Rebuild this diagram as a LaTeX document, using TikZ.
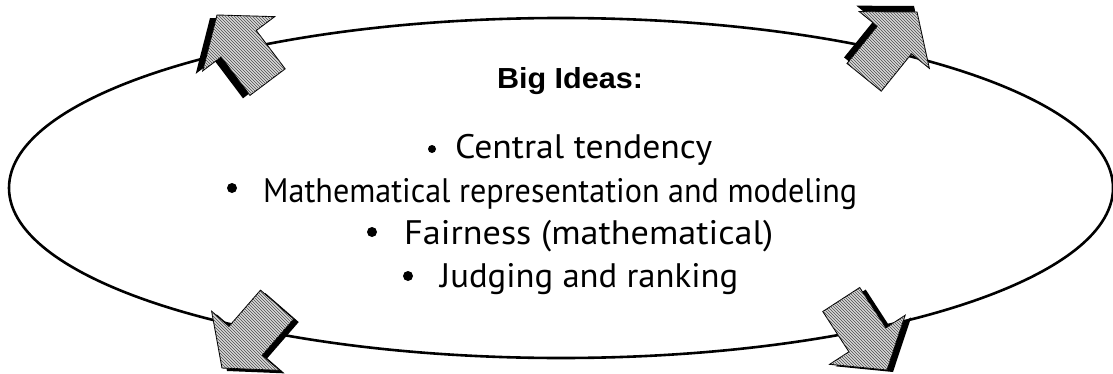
\documentclass[tikz,border=0pt]{standalone}
\usepackage{fontspec}
\usepackage{graphicx}
\setmainfont{PT Sans}
\newfontfamily\headfont{Liberation Sans}
\usetikzlibrary{patterns}

% stretch a line of text to a given width, keeping its height
\newcommand\stretchto[2]{\resizebox{#1}{\height}{#2}}

% block arrow pointing along +x with its tip at the origin
\newcommand\arrowpath{(0,0) -- (-36,45) -- (-36,22) -- (-84,22) -- (-84,-22) -- (-36,-22) -- (-36,-45) -- cycle}

% #1 tip, #2 direction, #3 offset of the dark side
\newcommand\blockarrow[3]{%
  \begin{scope}[shift={(#1)}]
    \fill[arrowside, shift={(#3)}, rotate=#2] \arrowpath;
    \filldraw[arrowbody, rotate=#2] \arrowpath;
  \end{scope}}

\tikzset{
  x=1pt, y=1pt,
  ring/.style={line width=2.6pt},
  arrowbody/.style={draw=black, line width=0.9pt, fill=gray!30,
    postaction={pattern=north west lines, pattern color=black!70}},
  arrowside/.style={fill=black},
  dot/.style={circle, fill=black, inner sep=0pt},
  bodytext/.style={anchor=base west, inner sep=0pt, font=\fontsize{34}{40}\selectfont},
  headtext/.style={anchor=base, inner sep=0pt, font=\headfont\bfseries\fontsize{29}{34}\selectfont},
}

\begin{document}
\begin{tikzpicture}
  \useasboundingbox (0,0) rectangle (1113,373);
  \fill[white] (0,0) rectangle (1113,373);

  % the cycle
  \draw[ring] (561,185) ellipse [x radius=552, y radius=170];

  % arrows leaving the cycle
  \blockarrow{217,358}{127}{-7,-3}
  \blockarrow{917,361}{51}{-3,6}
  \blockarrow{222,5}{229}{5,-3}
  \blockarrow{887,3}{303}{6,-2}

  % heading
  \node[headtext] (title) at (570,284) {\stretchto{146pt}{Big Ideas:}};

  % list of ideas
  \node[dot, minimum size=8pt] (b1) at (432,224) {};
  \node[bodytext] (t1) at (455,215) {\stretchto{257pt}{Central tendency}};

  \node[dot, minimum size=10pt] (b2) at (232,185) {};
  \node[bodytext] (t2) at (263,171) {\stretchto{594pt}{Mathematical representation and modeling}};

  \node[dot, minimum size=10pt] (b3) at (372,141) {};
  \node[bodytext] (t3) at (404,129) {\stretchto{369pt}{Fairness (mathematical)}};

  \node[dot, minimum size=10pt] (b4) at (408,97) {};
  \node[bodytext] (t4) at (440,86) {\stretchto{298pt}{Judging and ranking}};
\end{tikzpicture}
\end{document}
